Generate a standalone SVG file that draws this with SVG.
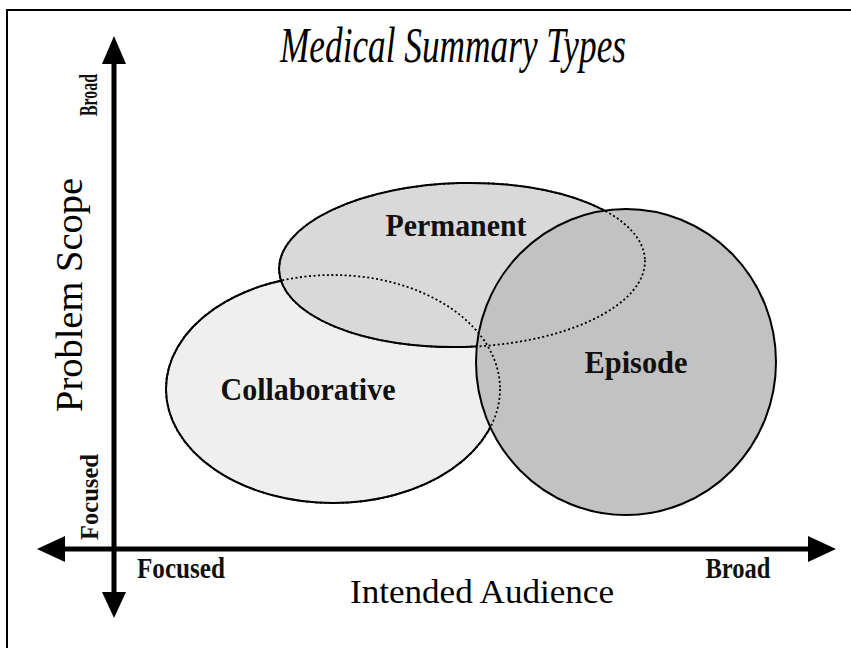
<svg xmlns="http://www.w3.org/2000/svg" width="851" height="648" viewBox="0 0 851 648">
<style>
.ell{stroke:#000;stroke-width:2}
.dot{fill:none;stroke:#000;stroke-width:1.8;stroke-dasharray:2 2.5}
text{font-family:'Liberation Serif','Times New Roman',Times,serif}
.lbl{font-weight:bold;fill:#111}
.ax{fill:#000}
.axis{stroke:#000;stroke-width:5}
</style>
<rect width="851" height="648" fill="#fff"/>
<path d="M7 648 V10 H851" fill="none" stroke="#000" stroke-width="2"/>
<text x="453" y="62" class="ax" font-size="50" font-style="italic" text-anchor="middle" textLength="346" lengthAdjust="spacingAndGlyphs">Medical Summary Types</text>
<g id="collaborative">
<ellipse cx="333" cy="389" rx="167" ry="114" fill="#efefef" class="ell"/>
</g>
<g id="permanent">
<ellipse cx="462" cy="265" rx="183" ry="82" transform="rotate(-1.5 462 265)" fill="#d9d9d9" class="ell"/>
</g>
<g id="episode">
<ellipse cx="626" cy="362" rx="150" ry="153" fill="#c2c2c2" class="ell"/>
</g>
<g id="hidden-edges">
<ellipse cx="333" cy="389" rx="167" ry="114" class="dot"/>
<ellipse cx="462" cy="265" rx="183" ry="82" transform="rotate(-1.5 462 265)" class="dot"/>
</g>
<text x="456" y="236" class="lbl" font-size="32" text-anchor="middle" textLength="141" lengthAdjust="spacingAndGlyphs">Permanent</text>
<text x="308" y="400" class="lbl" font-size="32" text-anchor="middle" textLength="175" lengthAdjust="spacingAndGlyphs">Collaborative</text>
<text x="636" y="373" class="lbl" font-size="32" text-anchor="middle" textLength="103" lengthAdjust="spacingAndGlyphs">Episode</text>
<g id="axes">
<line x1="114" y1="60" x2="114" y2="596" class="axis"/>
<polygon points="114,36 102,64 126,64"/>
<polygon points="114,618 102,592 126,592"/>
<line x1="60" y1="549" x2="815" y2="549" class="axis"/>
<polygon points="37,549 65,536 65,562"/>
<polygon points="836,549 808,536 808,562"/>
</g>
<text transform="translate(82,295) rotate(-90)" class="ax" font-size="38" text-anchor="middle" textLength="234" lengthAdjust="spacingAndGlyphs">Problem Scope</text>
<text transform="translate(97,95) rotate(-90)" class="lbl" font-size="26" text-anchor="middle" textLength="42" lengthAdjust="spacingAndGlyphs">Broad</text>
<text transform="translate(98,497) rotate(-90)" class="lbl" font-size="26" text-anchor="middle" textLength="86" lengthAdjust="spacingAndGlyphs">Focused</text>
<text x="181" y="578" class="lbl" font-size="30" text-anchor="middle" textLength="88" lengthAdjust="spacingAndGlyphs">Focused</text>
<text x="738" y="578" class="lbl" font-size="30" text-anchor="middle" textLength="65" lengthAdjust="spacingAndGlyphs">Broad</text>
<text x="482" y="603" class="ax" font-size="34" text-anchor="middle" textLength="264" lengthAdjust="spacingAndGlyphs">Intended Audience</text>
</svg>
